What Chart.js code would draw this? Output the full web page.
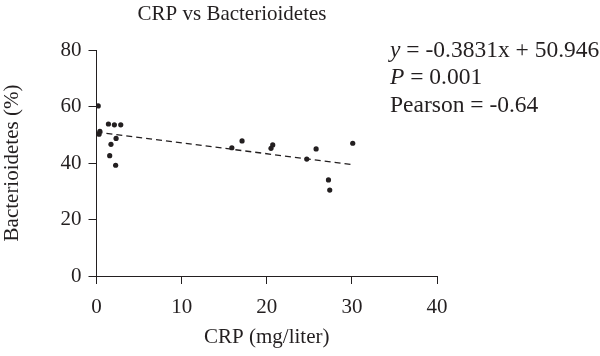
<!DOCTYPE html>
<html>
<head>
<meta charset="utf-8">
<script src="https://cdn.jsdelivr.net/npm/chart.js@4"></script>
<style>
  html, body { margin: 0; padding: 0; background: #fff; }
  #wrap { width: 600px; height: 356px; position: relative; }
</style>
</head>
<body>
<div id="wrap"><canvas id="c" width="600" height="356"></canvas></div>
<script>
const chartTitle = "CRP vs Bacterioidetes";
const xAxisTitle = "CRP (mg/liter)";
const yAxisTitle = "Bacterioidetes (%)";
const xTicks = [0, 10, 20, 30, 40];
const yTicks = [0, 20, 40, 60, 80];
const crpValues = [0.2, 1.4, 2.1, 2.85, 0.3, 0.4, 2.3, 1.7, 1.55, 2.25, 15.9, 17.1, 20.5, 20.7, 24.7, 25.8, 27.25, 27.4, 30.1];
const bactValues = [60.2, 53.8, 53.5, 53.5, 50.2, 51.2, 48.7, 46.6, 42.6, 39.2, 45.4, 47.8, 45.2, 46.4, 41.4, 45.0, 34.0, 30.4, 47.0];
const slope = -0.3831;
const intercept = 50.946;
const fitRange = [0, 30];
const statLines = [["y", " = -0.3831x + 50.946"], ["P", " = 0.001"], ["", "Pearson = -0.64"]];

const FONT = "'Liberation Serif', 'Times New Roman', serif";
const points = crpValues.map((x, i) => ({x: x, y: bactValues[i]}));
const fitPoints = fitRange.map(x => ({x: x, y: slope * x + intercept}));

const textPlugin = {
  id: 'texts',
  afterDraw(chart) {
    const ctx = chart.ctx;
    ctx.save();
    ctx.fillStyle = '#231f20';
    ctx.textBaseline = 'alphabetic';
    ctx.font = "21px " + FONT;
    ctx.textAlign = 'center';
    ctx.fillText(chartTitle, 232, 20);
    ctx.textAlign = 'left';
    const baselines = [57, 84, 112];
    statLines.forEach((ln, i) => {
      let x = 390;
      if (ln[0]) {
        ctx.font = "italic 23.5px " + FONT;
        ctx.fillText(ln[0], x, baselines[i]);
        x += ctx.measureText(ln[0]).width;
      }
      ctx.font = "23.5px " + FONT;
      ctx.fillText(ln[1], x, baselines[i]);
    });
    ctx.restore();
  }
};

new Chart(document.getElementById('c'), {
  type: 'scatter',
  data: {
    datasets: [
      {
        data: points,
        backgroundColor: '#231f20',
        borderColor: '#231f20',
        pointRadius: 2.6,
        pointHoverRadius: 2.6,
        borderWidth: 0
      },
      {
        type: 'line',
        data: fitPoints,
        borderColor: '#231f20',
        borderWidth: 1.3,
        borderDash: [6, 4],
        pointRadius: 0,
        fill: false
      }
    ]
  },
  options: {
    responsive: false,
    animation: false,
    events: [],
    layout: { padding: { top: 50, right: 163, left: 0, bottom: 0 } },
    plugins: { legend: { display: false }, title: { display: false }, tooltip: { enabled: false } },
    scales: {
      x: {
        type: 'linear',
        min: 0, max: 40,
        afterBuildTicks: s => { s.ticks = xTicks.map(v => ({value: v})); },
        afterFit: s => { s.height = 80; },
        grid: { drawOnChartArea: false, drawTicks: true, tickLength: 8, color: '#231f20', lineWidth: 1 },
        border: { display: true, color: '#231f20', width: 1 },
        ticks: { color: '#231f20', font: { family: FONT, size: 21 }, padding: 11, maxRotation: 0 },
        title: { display: true, text: xAxisTitle, color: '#231f20', font: { family: FONT, size: 21 }, padding: { top: 4, bottom: 6 } }
      },
      y: {
        type: 'linear',
        min: 0, max: 80,
        afterBuildTicks: s => { s.ticks = yTicks.map(v => ({value: v})); },
        afterFit: s => { s.width = 96.5; },
        grid: { drawOnChartArea: false, drawTicks: true, tickLength: 8, color: '#231f20', lineWidth: 1 },
        border: { display: true, color: '#231f20', width: 1 },
        ticks: { color: '#231f20', font: { family: FONT, size: 21 }, padding: 7 },
        title: { display: true, text: yAxisTitle, color: '#231f20', font: { family: FONT, size: 21 }, padding: { top: 0, bottom: 0 } }
      }
    }
  },
  plugins: [textPlugin]
});
</script>
</body>
</html>
